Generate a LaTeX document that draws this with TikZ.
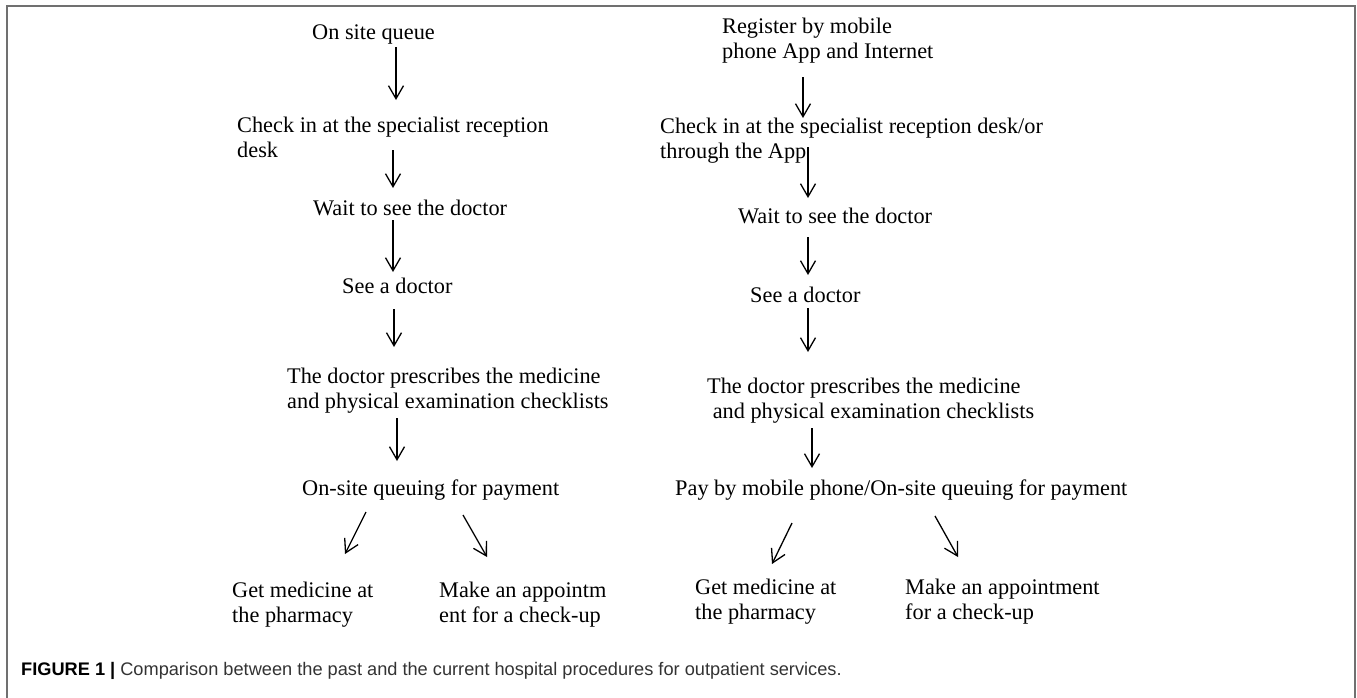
\documentclass[tikz,border=0pt]{standalone}
\usepackage{fontspec}
\setmainfont{Liberation Serif}
\newfontfamily\capfont{Liberation Sans}
\usetikzlibrary{arrows.meta}
\definecolor{framegray}{HTML}{707070}
\definecolor{captext}{HTML}{333333}
\newcommand{\lines}[1]{\begin{tabular}[t]{@{}l@{}}#1\end{tabular}}
\tikzset{
  lbl/.style={anchor=base west, inner sep=0pt, font=\fontsize{22.3}{25}\selectfont},
  arr/.style={line width=1.3pt, -{Straight Barb[length=13pt,width=15pt,line width=1.3pt]}},
}
\begin{document}
\begin{tikzpicture}[x=1pt,y=-1pt]
\useasboundingbox (0,0) rectangle (1357,697);
\fill[white] (0,0) rectangle (1357,697);
\draw[framegray, line width=1.8pt] (7,700) -- (7,6) -- (1355,6) -- (1355,700);

% left column
\node[lbl] (onsite) at (312,39) {On site queue};
\node[lbl] (lcheck) at (237,132) {\lines{Check in at the specialist reception\\desk}};
\node[lbl] (lwait) at (313,215) {Wait to see the doctor};
\node[lbl] (lsee) at (342,293) {See a doctor};
\node[lbl] (lpres) at (287,383) {\lines{The doctor prescribes the medicine\\and physical examination checklists}};
\node[lbl] (lpay) at (302,495) {On-site queuing for payment};
\node[lbl] (lget) at (232,597) {\lines{Get medicine at\\the pharmacy}};
\node[lbl] (lmake) at (439,597) {\lines{Make an appointm\\ent for a check-up}};

% right column
\node[lbl] (reg) at (722,33) {\lines{Register by mobile\\phone App and Internet}};
\node[lbl] (rcheck) at (660,133) {\lines{Check in at the specialist reception desk/or\\through the App}};
\node[lbl] (rwait) at (738,223) {Wait to see the doctor};
\node[lbl] (rsee) at (750,302) {See a doctor};
\node[lbl] (rpres) at (707,393) {\lines{The doctor prescribes the medicine\\\ and physical examination checklists}};
\node[lbl] (rpay) at (675,495) {Pay by mobile phone/On-site queuing for payment};
\node[lbl] (rget) at (695,594) {\lines{Get medicine at\\the pharmacy}};
\node[lbl] (rmake) at (905,594) {\lines{Make an appointment\\for a check-up}};

% arrow end points
\coordinate (a1s) at (396,47);  \coordinate (a1e) at (396,100);
\coordinate (a2s) at (393,150); \coordinate (a2e) at (393,188);
\coordinate (a3s) at (393,220); \coordinate (a3e) at (393,272);
\coordinate (a4s) at (394,309); \coordinate (a4e) at (394,347);
\coordinate (a5s) at (397,418); \coordinate (a5e) at (397,461);
\coordinate (a6s) at (366,512); \coordinate (a6e) at (345,554);
\coordinate (a7s) at (463,515); \coordinate (a7e) at (487,557);
\coordinate (b1s) at (803,77);  \coordinate (b1e) at (803,118);
\coordinate (b2s) at (808,147); \coordinate (b2e) at (808,198);
\coordinate (b3s) at (808,237); \coordinate (b3e) at (808,275);
\coordinate (b4s) at (808,308); \coordinate (b4e) at (808,352);
\coordinate (b5s) at (812,428); \coordinate (b5e) at (812,468);
\coordinate (b6s) at (792,523); \coordinate (b6e) at (772,564);
\coordinate (b7s) at (935,516); \coordinate (b7e) at (958,557);

\foreach \p in {a1,a2,a3,a4,a5,a6,a7,b1,b2,b3,b4,b5,b6,b7}
  \draw[arr] (\p s) -- (\p e);

% caption
\node[anchor=base west, inner sep=0pt, text=captext, font=\capfont\fontsize{18.2}{21}\selectfont] (cap) at (21,675)
  {{\color{black}\bfseries FIGURE 1 |} Comparison between the past and the current hospital procedures for outpatient services.};
\end{tikzpicture}
\end{document}
